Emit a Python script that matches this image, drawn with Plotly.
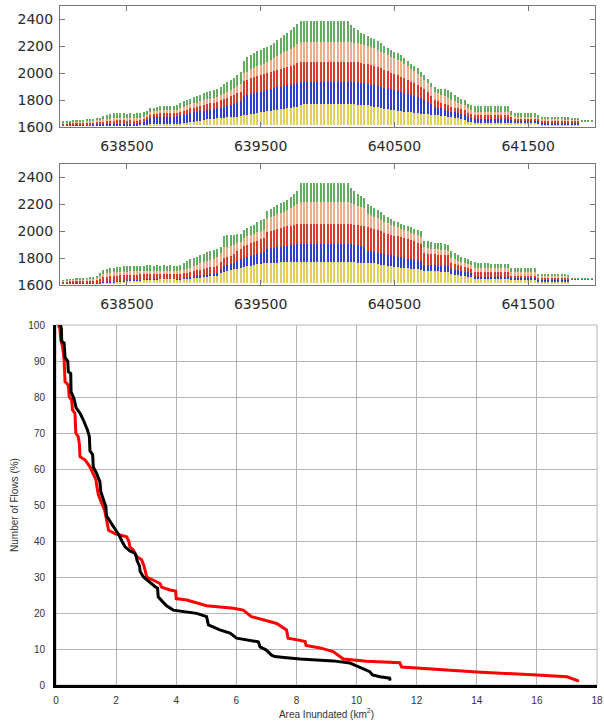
import plotly.graph_objects as go

# ---------------- profile panels (x positions along the section, m) ----------------
X_POS = list(range(638025, 642000, 25))  # 159 stations

# Panel 1 : layer tops (m a.s.l.)
P1_BASE = [1612] * 155 + [1640] * 4
P1_YELLOW = ([1612] * 12 + [1613] * 12 + [1615, 1618] + [1622] * 10 +
             [1628, 1632, 1636, 1640, 1644, 1648, 1652, 1656, 1660, 1663, 1665, 1668, 1670, 1672, 1674, 1676, 1678, 1680] +
             [1689, 1692, 1696, 1700, 1704, 1708, 1712, 1716, 1720, 1724, 1728, 1732, 1736, 1740, 1744, 1748, 1751, 1760] +
             [1771] * 14 +
             [1770, 1768, 1766, 1764, 1762, 1760, 1756, 1752, 1746, 1739, 1736, 1732, 1728, 1724, 1720, 1716] +
             [1714, 1712, 1708, 1705, 1702, 1700, 1698, 1695, 1692, 1689] +
             [1686, 1683, 1680, 1677, 1674, 1670, 1666, 1660, 1652] +
             [1640, 1635] + [1630] * 11 + [1628] * 9 + [1620] * 12 + [1640] * 4)
P1_BLUE = ([1615, 1615, 1616, 1616, 1617, 1617, 1618, 1618, 1618, 1619, 1619, 1620] +
           [1622, 1623, 1624, 1625, 1625, 1625, 1625, 1625, 1625, 1625, 1626, 1628, 1635, 1650] +
           [1665, 1672, 1677, 1677, 1677, 1677, 1677, 1677, 1680, 1686] +
           [1692, 1698, 1703, 1708, 1712, 1716, 1720, 1724, 1728, 1733, 1739, 1745, 1752, 1758, 1764, 1770, 1780, 1790] +
           [1830, 1838, 1845, 1852, 1858, 1864, 1870, 1876, 1882, 1888, 1894, 1900, 1905, 1910, 1915, 1920, 1925, 1932] +
           [1937] * 14 +
           [1936, 1934, 1932, 1928, 1925, 1920, 1915, 1910, 1905, 1900, 1893, 1886, 1880, 1872, 1866, 1858] +
           [1851, 1845, 1838, 1832, 1826, 1814, 1800, 1785, 1768, 1751] +
           [1745, 1738, 1730, 1722, 1714, 1708, 1702, 1695, 1689] +
           [1675, 1668] + [1662] * 11 +
           [1650, 1646, 1646, 1646, 1646, 1646, 1646, 1645, 1642] + [1632] * 12 + [1640] * 4)
P1_RED = ([1628, 1629, 1630, 1631, 1632, 1633, 1634, 1635, 1636, 1637, 1638, 1640] +
          [1644, 1646, 1648, 1650, 1650, 1650, 1650, 1650, 1650, 1650, 1652, 1655, 1662, 1675] +
          [1690, 1696, 1700, 1702, 1702, 1702, 1702, 1702, 1706, 1714] +
          [1722, 1730, 1738, 1745, 1752, 1758, 1764, 1770, 1776, 1782, 1789, 1798, 1808, 1818, 1828, 1838, 1850, 1860] +
          [1940, 1950, 1962, 1970, 1978, 1986, 1994, 2000, 2008, 2016, 2024, 2032, 2040, 2048, 2056, 2064, 2074, 2082] +
          [2086] * 14 +
          [2084, 2082, 2080, 2076, 2072, 2066, 2060, 2052, 2044, 2036, 2024, 2014, 2004, 1994, 1984, 1974] +
          [1962, 1950, 1938, 1925, 1912, 1900, 1880, 1860, 1830, 1801] +
          [1790, 1780, 1770, 1760, 1751, 1745, 1738, 1732, 1726] +
          [1705, 1698] + [1689] * 11 +
          [1672, 1666, 1665, 1665, 1665, 1665, 1665, 1663, 1660] + [1646] * 12 + [1640] * 4)
P1_SALMON = ([1634, 1635, 1637, 1638, 1640, 1641, 1643, 1645, 1646, 1648, 1650, 1652] +
             [1656, 1660, 1662, 1664, 1665, 1665, 1665, 1664, 1665, 1664, 1666, 1668, 1675, 1690] +
             [1712, 1718, 1722, 1725, 1726, 1726, 1726, 1725, 1730, 1740] +
             [1752, 1760, 1768, 1775, 1782, 1790, 1798, 1806, 1812, 1818, 1826, 1836, 1848, 1862, 1875, 1888, 1905, 1920] +
             [2000, 2012, 2030, 2042, 2052, 2062, 2072, 2082, 2095, 2110, 2125, 2140, 2155, 2168, 2182, 2198, 2215, 2230] +
             [2235] * 14 +
             [2232, 2228, 2224, 2220, 2212, 2204, 2194, 2184, 2172, 2160, 2148, 2136, 2124, 2112, 2100, 2088] +
             [2070, 2052, 2035, 2015, 1995, 1975, 1950, 1925, 1895, 1863] +
             [1850, 1840, 1830, 1815, 1801, 1790, 1780, 1772, 1764] +
             [1740, 1730] + [1714] * 11 +
             [1690, 1680, 1678, 1677, 1677, 1677, 1677, 1675, 1670] +
             [1660, 1660, 1659, 1659, 1658, 1658, 1658, 1658, 1657, 1657, 1656, 1656] + [1642] * 4)
P1_GREEN = ([1640, 1642, 1645, 1647, 1650, 1652, 1655, 1658, 1660, 1663, 1666, 1670] +
            [1682, 1692, 1698, 1702, 1704, 1703, 1702, 1700, 1702, 1700, 1704, 1706, 1712, 1722] +
            [1738, 1745, 1752, 1756, 1758, 1757, 1756, 1755, 1762, 1775] +
            [1790, 1800, 1812, 1822, 1832, 1840, 1850, 1858, 1866, 1874, 1886, 1900, 1918, 1937, 1952, 1968, 1990, 2010] +
            [2090, 2120, 2138, 2150, 2162, 2175, 2186, 2197, 2210, 2228, 2247, 2265, 2282, 2300, 2322, 2342, 2365, 2385] +
            [2392] * 14 +
            [2360, 2335, 2318, 2302, 2290, 2277, 2265, 2252, 2238, 2222, 2206, 2190, 2175, 2160, 2148, 2136] +
            [2112, 2088, 2072, 2052, 2037, 2012, 1988, 1960, 1930, 1900] +
            [1886, 1880, 1880, 1876, 1858, 1840, 1825, 1810, 1800] +
            [1772, 1760] + [1756] * 11 +
            [1720, 1707, 1707, 1707, 1707, 1707, 1707, 1707, 1692] +
            [1677, 1677, 1676, 1676, 1675, 1674, 1673, 1672, 1671, 1670, 1670, 1670] + [1648] * 4)

# Panel 2 : layer tops (m a.s.l.)
P2_BASE = [1612] * 152 + [1640] * 7
P2_YELLOW = ([1612] * 10 + [1613, 1614] +
             [1616, 1618, 1620, 1622, 1624, 1626, 1628, 1630, 1632, 1634, 1636, 1637, 1638, 1639, 1640, 1641, 1642, 1643, 1643, 1643, 1643, 1643, 1643, 1644] +
             [1648, 1650, 1652, 1654, 1656, 1658, 1660, 1662, 1664, 1666, 1668] +
             [1690, 1700, 1705, 1710, 1716, 1722, 1730] +
             [1735, 1740, 1745, 1750, 1754, 1758, 1762] +
             [1765, 1766, 1767, 1767, 1768, 1768, 1768, 1768, 1768, 1768, 1768] +
             [1768] * 14 +
             [1768, 1768, 1767, 1766, 1766] +
             [1766, 1764, 1760, 1756, 1752, 1748, 1744, 1740, 1736, 1733, 1730] +
             [1727, 1724, 1721, 1718, 1716, 1715] +
             [1705, 1704, 1703, 1702, 1701, 1700, 1700, 1698] +
             [1682, 1678, 1674, 1670, 1666, 1662, 1660] +
             [1642] * 11 + [1635] * 8 + [1625] * 10 + [1640] * 7)
P2_BLUE = ([1614] * 10 + [1616, 1618] +
           [1620, 1622, 1624, 1626, 1628, 1630, 1632, 1634, 1636, 1637, 1638, 1639, 1640, 1641, 1642, 1643, 1643, 1643, 1643, 1643, 1643, 1643, 1644, 1646] +
           [1652, 1655, 1658, 1662, 1666, 1670, 1674, 1678, 1682, 1686, 1690] +
           [1710, 1740, 1748, 1756, 1765, 1775, 1790] +
           [1800, 1808, 1816, 1824, 1832, 1840, 1848] +
           [1868, 1872, 1876, 1880, 1884, 1888, 1892, 1896, 1900, 1903, 1905] +
           [1905] * 14 +
           [1902, 1898, 1894, 1890, 1886] +
           [1855, 1850, 1845, 1840, 1835, 1830, 1825, 1820, 1815, 1810, 1805] +
           [1800, 1796, 1792, 1788, 1784, 1780] +
           [1752, 1750, 1748, 1746, 1744, 1742, 1740, 1738] +
           [1720, 1715, 1710, 1705, 1700, 1695, 1690] +
           [1662] * 11 + [1650] * 8 + [1635] * 10 + [1640] * 7)
P2_RED = ([1628, 1629, 1630, 1631, 1632, 1633, 1634, 1635, 1636, 1637] + [1640, 1648] +
          [1656, 1662, 1666, 1668, 1670, 1672, 1674, 1675, 1676, 1677, 1678, 1679, 1680, 1680, 1680, 1680, 1680, 1680, 1680, 1680, 1680, 1680, 1681, 1684] +
          [1688, 1692, 1696, 1702, 1708, 1714, 1720, 1726, 1732, 1737, 1742] +
          [1770, 1800, 1808, 1818, 1830, 1850, 1870] +
          [1890, 1900, 1910, 1920, 1930, 1940, 1950] +
          [1992, 2000, 2008, 2016, 2024, 2030, 2036, 2042, 2048, 2052, 2055] +
          [2055] * 14 +
          [2052, 2048, 2044, 2040, 2036] +
          [2030, 2022, 2014, 2006, 1998, 1990, 1982, 1975, 1968, 1962, 1955] +
          [1948, 1940, 1932, 1924, 1915, 1905] +
          [1835, 1832, 1830, 1828, 1826, 1824, 1822, 1820] +
          [1762, 1755, 1748, 1740, 1734, 1728, 1722] +
          [1695] * 11 + [1670] * 8 + [1650] * 10 + [1645] * 7)
P2_SALMON = ([1634, 1636, 1638, 1639, 1640, 1642, 1643, 1645, 1646, 1648] + [1655, 1668] +
             [1680, 1688, 1692, 1695, 1697, 1698, 1700, 1700, 1701, 1702, 1703, 1704, 1705, 1705, 1705, 1705, 1705, 1705, 1705, 1705, 1705, 1705, 1705, 1708] +
             [1715, 1720, 1728, 1740, 1750, 1760, 1770, 1780, 1788, 1796, 1805] +
             [1840, 1880, 1885, 1892, 1900, 1910, 1920] +
             [1950, 1962, 1972, 1982, 1992, 2000, 2010] +
             [2095, 2105, 2115, 2125, 2135, 2145, 2158, 2172, 2188, 2202, 2218] +
             [2218] * 14 +
             [2210, 2200, 2190, 2180, 2170] +
             [2130, 2118, 2108, 2098, 2085, 2072, 2060, 2050, 2040, 2030, 2020] +
             [2010, 2000, 1990, 1980, 1970, 1960] +
             [1880, 1875, 1870, 1868, 1866, 1864, 1860, 1855] +
             [1800, 1790, 1780, 1770, 1762, 1755, 1750] +
             [1728] * 11 + [1700] * 8 + [1665] * 10 + [1647] * 7)
P2_GREEN = ([1637, 1640, 1642, 1644, 1646, 1648, 1650, 1652, 1654, 1656] + [1665, 1690] +
            [1710, 1718, 1724, 1728, 1732, 1735, 1738, 1740, 1742, 1743, 1744, 1745, 1745, 1746, 1746, 1745, 1746, 1745, 1746, 1745, 1746, 1744, 1745, 1748] +
            [1765, 1778, 1790, 1800, 1810, 1820, 1830, 1842, 1850, 1858, 1868] +
            [1880, 1968, 1970, 1972, 1974, 1976, 1978] +
            [2010, 2025, 2038, 2050, 2065, 2080, 2090] +
            [2150, 2165, 2180, 2195, 2208, 2220, 2235, 2255, 2275, 2300, 2355] +
            [2355] * 14 +
            [2318, 2300, 2280, 2262, 2250] +
            [2205, 2190, 2175, 2160, 2140, 2120, 2105, 2090, 2078, 2068, 2055] +
            [2048, 2040, 2030, 2020, 2008, 2005] +
            [1930, 1925, 1920, 1915, 1912, 1910, 1906, 1900] +
            [1855, 1840, 1825, 1810, 1800, 1790, 1780] +
            [1768, 1766, 1764, 1762, 1760, 1758, 1757, 1756, 1755, 1755, 1755] +
            [1730] * 8 + [1680] * 9 + [1678] + [1648] * 7)

PROFILE_TICKS_X = [638500, 639500, 640500, 641500]
PROFILE_TICKS_Y = [1600, 1800, 2000, 2200, 2400]
LAYER_COLORS = ["#e2cf5c", "#2f40d0", "#d83b2c", "#efae8b", "#63ad60"]

# ---------------- exceedance curves ----------------
BLACK_X = [0.15, 0.18, 0.19, 0.27, 0.30, 0.39, 0.41, 0.49, 0.50, 0.60, 0.67, 0.80, 0.91, 1.04, 1.11,
           1.13, 1.22, 1.24, 1.35, 1.46, 1.49, 1.57, 1.66, 1.68, 1.78, 1.88, 1.99, 2.10, 2.19, 2.30,
           2.46, 2.62, 2.66, 2.70, 2.78, 2.80, 2.91, 3.08, 3.30, 3.38, 3.40, 3.53, 3.68, 3.90, 4.30,
           4.68, 5.01, 5.07, 5.45, 5.79, 6.01, 6.34, 6.73, 6.79, 7.00, 7.17, 7.28, 7.67, 8.12, 9.22,
           9.78, 9.94, 10.30, 10.44, 10.53, 10.78, 11.10, 11.12]
BLACK_Y = [100, 99, 95.5, 95, 91, 90, 87, 86.5, 81.5, 79.5, 77, 75.5, 73.6, 71, 69,
           65, 64, 60.6, 58.8, 56.5, 53.7, 51.8, 49.5, 47, 45.5, 44.4, 43, 41.6, 40, 38.4,
           37.2, 36.6, 36, 34.5, 33, 31.5, 30, 28.7, 27.3, 26.9, 24.5, 23.3, 22, 20.8, 20.4,
           19.9, 19, 16.7, 15.3, 14.4, 13, 12.5, 12.0, 10.6, 9.7, 8.3, 7.9, 7.6, 7.2, 6.7,
           6.1, 5.5, 4.1, 3.7, 2.8, 2.3, 1.9, 1.2]
RED_X = [0.08, 0.13, 0.16, 0.22, 0.27, 0.30, 0.41, 0.44, 0.52, 0.55, 0.63, 0.66, 0.74, 0.78, 0.80,
         0.97, 1.13, 1.22, 1.33, 1.35, 1.41, 1.52, 1.62, 1.68, 1.75, 1.97, 2.35, 2.42, 2.46, 2.57,
         2.68, 2.85, 2.93, 3.02, 3.24, 3.46, 3.51, 3.79, 3.98, 4.00, 4.35, 4.78, 5.01, 5.90, 6.23,
         6.50, 6.90, 7.34, 7.67, 7.72, 8.12, 8.29, 8.32, 8.79, 9.22, 9.39, 9.56, 10.33, 11.44, 11.50,
         12.55, 14.00, 16.00, 17.00, 17.40]
RED_Y = [100, 99, 95.8, 94, 90.3, 84.3, 83.3, 80, 79.2, 76.4, 75.5, 70, 69, 66.7, 63.4,
         62.5, 60.6, 58.8, 57, 55.6, 52.8, 50.5, 48.5, 46, 43, 42, 41.2, 40, 38.4, 37.5,
         35.7, 34.8, 33, 30, 29.2, 28.2, 27.2, 26.4, 26.1, 24, 23.6, 22.5, 22, 21.3, 20.8,
         19, 18.1, 17.1, 15.3, 13, 12.4, 12.1, 11, 10.3, 9.3, 8.3, 7.2, 6.6, 6.2, 5.0,
         4.4, 3.6, 2.8, 2.3, 1.1]

AREA_TICKS = [0, 2, 4, 6, 8, 10, 12, 14, 16, 18]
FLOW_TICKS = [0, 10, 20, 30, 40, 50, 60, 70, 80, 90, 100]

for lst in [P1_BASE, P1_YELLOW, P1_BLUE, P1_RED, P1_SALMON, P1_GREEN,
            P2_BASE, P2_YELLOW, P2_BLUE, P2_RED, P2_SALMON, P2_GREEN]:
    assert len(lst) == len(X_POS), len(lst)

fig = go.Figure()

def add_profile(levels, xa, ya):
    for k in range(5):
        lo, hi = levels[k], levels[k + 1]
        fig.add_trace(go.Bar(
            x=X_POS, y=[h - l for h, l in zip(hi, lo)], base=lo, width=15,
            marker=dict(color=LAYER_COLORS[k], line=dict(width=0)),
            xaxis=xa, yaxis=ya, showlegend=False, hoverinfo="skip"))

add_profile([P1_BASE, P1_YELLOW, P1_BLUE, P1_RED, P1_SALMON, P1_GREEN], "x", "y")
add_profile([P2_BASE, P2_YELLOW, P2_BLUE, P2_RED, P2_SALMON, P2_GREEN], "x2", "y2")

fig.add_trace(go.Scatter(x=RED_X, y=RED_Y, mode="lines", line=dict(color="#ff0000", width=3),
                         xaxis="x3", yaxis="y3", showlegend=False))
fig.add_trace(go.Scatter(x=BLACK_X, y=BLACK_Y, mode="lines", line=dict(color="#000000", width=3),
                         xaxis="x3", yaxis="y3", showlegend=False))

W, H = 604, 723
def xd(a, b):
    return [a / W, b / W]
def yd(top, bot):
    return [1 - bot / H, 1 - top / H]

prof_font = dict(family="DejaVu Sans", size=14, color="#2a2a2a")
def prof_x(dom, anchor):
    return dict(domain=dom, anchor=anchor, range=[638000, 642000], tickvals=PROFILE_TICKS_X,
                ticktext=[str(v) for v in PROFILE_TICKS_X], automargin=False,
                ticks="inside", ticklen=5, tickcolor="#777", showline=True, linecolor="#777",
                linewidth=1, mirror="ticks", showgrid=False, zeroline=False, tickfont=prof_font,
                ticklabelstandoff=6)
def prof_y(dom, anchor):
    return dict(domain=dom, anchor=anchor, range=[1600, 2500], tickvals=PROFILE_TICKS_Y,
                automargin=False,
                ticks="inside", ticklen=5, tickcolor="#777", showline=True, linecolor="#777",
                linewidth=1, mirror="ticks", showgrid=False, zeroline=False, tickfont=prof_font,
                ticklabelstandoff=3)

small_font = dict(family="Liberation Sans", size=10, color="#333")

fig.update_layout(
    width=W, height=H, margin=dict(l=0, r=0, t=0, b=0, autoexpand=False),
    paper_bgcolor="white", plot_bgcolor="white", barmode="overlay", bargap=0,
    xaxis=prof_x(xd(60, 595), "y"), yaxis=prof_y(yd(6, 127), "x"),
    xaxis2=prof_x(xd(60, 595), "y2"), yaxis2=prof_y(yd(164, 285), "x2"),
    xaxis3=dict(domain=xd(56, 597), anchor="y3", range=[0, 18], tickvals=AREA_TICKS,
                automargin=False,
                showgrid=True, gridcolor="#b4b4b4", gridwidth=1, zeroline=False,
                showline=True, linecolor="black", linewidth=3, ticks="", tickfont=small_font,
                ticklabelstandoff=4,
                title=dict(text="Area Inundated (km<sup>2</sup>)", font=small_font, standoff=6)),
    yaxis3=dict(domain=yd(325, 685), anchor="x3", range=[0, 100], tickvals=FLOW_TICKS,
                automargin=False,
                showgrid=True, gridcolor="#b4b4b4", gridwidth=1, zeroline=False,
                showline=True, linecolor="black", linewidth=3, ticks="", tickfont=small_font,
                ticklabelstandoff=6,
                title=dict(text="Number of Flows (%)", font=small_font, standoff=8)),
    shapes=[dict(type="rect", xref="x3 domain", yref="y3 domain", x0=0, x1=1, y0=0, y1=1,
                 line=dict(color="#b4b4b4", width=1), layer="below")],
)

fig.write_html("out.html", config={"displayModeBar": False},
               post_script="document.body.style.margin='0';document.body.style.padding='0';")
